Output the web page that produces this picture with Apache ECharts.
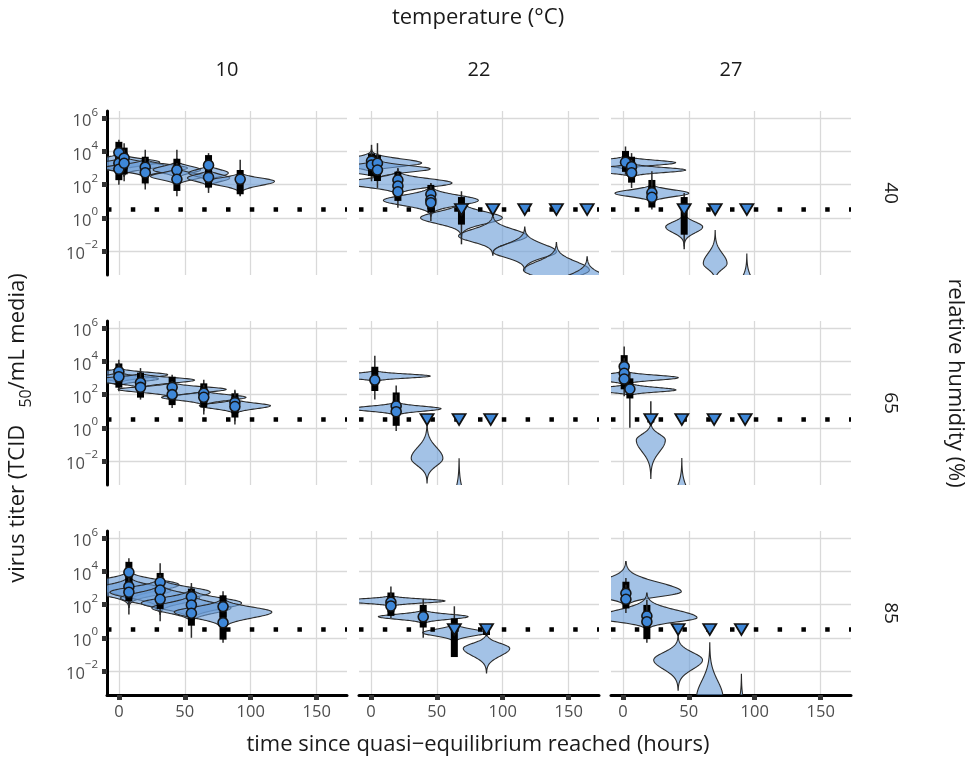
<!DOCTYPE html>
<html>
<head>
<meta charset="utf-8">
<script src="https://cdn.jsdelivr.net/npm/echarts@6/dist/echarts.min.js"></script>
<style>
  html, body { margin: 0; padding: 0; background: #fff; }
  #chart { width: 975px; height: 762px; }
</style>
</head>
<body>
<div id="chart"></div>
<script>
'use strict';

var temps = ['10', '22', '27'];
var humidities = ['40', '65', '85'];
var xTicks = [0, 50, 100, 150];
var yTicks = [-2, 0, 2, 4, 6];
var detectionLimit = 0.5;

// violins: [time (h), mode log10 titer, spread below, spread above, half width (h)]
// obs: [time (h), median, lo68, hi68, lo95, hi95]  (median null -> no circle)
// nd: times of samples below detection

var violins_10_40 = [
  [0, 3.35, 0.2, 0.2, 31], [4, 3.15, 0.2, 0.2, 30], [20, 3.0, 0.2, 0.2, 32],
  [44, 2.9, 0.2, 0.2, 18], [44, 2.5, 0.2, 0.2, 20], [68, 2.7, 0.2, 0.2, 15],
  [68, 2.4, 0.2, 0.2, 16], [92, 2.2, 0.25, 0.2, 26]
];
var obs_10_40 = [
  [0, 3.93, 3.5, 4.4, 3.0, 4.7], [0, 3.29, 2.85, 3.75, 2.3, 4.2], [0, 2.93, 2.45, 3.4, 2.0, 3.9],
  [4, 3.6, 3.1, 4.05, 2.7, 4.5], [4, 3.29, 2.8, 3.75, 2.2, 4.1],
  [20, 3.05, 2.6, 3.5, 2.0, 4.1], [20, 2.72, 2.25, 3.15, 1.7, 3.6],
  [44, 2.88, 2.45, 3.38, 1.9, 4.1], [44, 2.32, 1.8, 2.75, 1.3, 3.3],
  [68, 3.17, 2.7, 3.6, 2.3, 3.9], [68, 2.44, 2.0, 2.85, 1.5, 3.3],
  [92, 2.32, 1.6, 2.7, 1.3, 3.5]
];
var nd_10_40 = [];

var violins_22_40 = [
  [0.5, 3.3, 0.2, 0.25, 38], [5, 2.95, 0.2, 0.2, 40], [20.5, 2.1, 0.25, 0.25, 41],
  [45.5, 1.05, 0.3, 0.3, 36], [68.7, 0.0, 0.35, 0.35, 31], [92.5, -1.1, 0.35, 0.4, 26],
  [116.7, -2.05, 0.35, 0.45, 24], [140.7, -3.15, 0.4, 0.5, 25], [164, -4.0, 0.4, 0.5, 25]
];
var obs_22_40 = [
  [0.5, 3.42, 3.0, 3.7, 2.6, 4.4], [0.5, 3.18, 2.7, 3.6, 2.2, 4.1],
  [5, 3.29, 2.85, 3.6, 2.2, 4.5], [5, 2.88, 2.4, 3.3, 1.8, 3.9],
  [20.5, 2.28, 1.9, 2.6, 1.3, 3.0], [20.5, 1.92, 1.5, 2.3, 1.0, 2.7], [20.5, 1.57, 1.2, 1.95, 0.6, 2.4],
  [45.5, 1.42, 1.0, 1.8, 0.5, 2.1], [45.5, 1.07, 0.7, 1.45, 0.1, 1.9], [45.5, 0.91, 0.5, 1.3, -0.2, 1.7],
  [68.7, null, -0.23, 1.07, -1.6, 1.6]
];
var nd_22_40 = [68.7, 92.5, 116.7, 140.7, 164];

var violins_27_40 = [
  [2, 3.32, 0.15, 0.15, 38], [6.6, 2.88, 0.15, 0.15, 41], [22, 1.48, 0.2, 0.2, 28],
  [46.5, -0.55, 0.35, 0.3, 14], [70, -2.75, 0.35, 0.6, 9], [94, -4.5, 0.4, 0.7, 8]
];
var obs_27_40 = [
  [2, 3.35, 2.95, 3.85, 2.6, 4.3],
  [6.6, 3.08, 2.6, 3.5, 2.2, 3.9], [6.6, 2.72, 2.3, 3.1, 1.8, 3.5],
  [22, 1.51, 1.1, 2.1, 0.8, 2.8], [22, 1.24, 0.8, 1.7, 0.5, 2.3],
  [46.5, null, -0.84, 1.07, -1.9, 1.5]
];
var nd_27_40 = [46.5, 70, 94];

var violins_10_65 = [
  [0, 3.2, 0.18, 0.15, 37], [0, 2.95, 0.15, 0.15, 30], [16.4, 2.88, 0.18, 0.15, 41],
  [40.4, 2.32, 0.18, 0.15, 41], [64.4, 1.84, 0.18, 0.15, 32], [88, 1.33, 0.18, 0.15, 27]
];
var obs_10_65 = [
  [0, 3.38, 2.95, 3.7, 2.5, 4.1], [0, 3.08, 2.6, 3.45, 2.2, 3.9],
  [16.4, 2.72, 2.3, 3.15, 1.9, 3.6], [16.4, 2.44, 2.0, 2.85, 1.7, 3.3],
  [40.4, 2.44, 2.0, 2.9, 1.6, 3.2], [40.4, 2.0, 1.55, 2.4, 1.2, 2.8],
  [64.4, 2.08, 1.65, 2.5, 0.8, 2.9], [64.4, 1.84, 1.4, 2.25, 1.0, 2.6],
  [88, 1.52, 1.05, 1.9, 0.4, 2.3], [88, 1.28, 0.8, 1.7, 0.2, 2.2]
];
var nd_10_65 = [];

var violins_22_65 = [
  [3, 3.12, 0.12, 0.12, 42], [19.2, 1.15, 0.15, 0.15, 34],
  [42.6, -1.84, 0.45, 0.65, 12], [66.9, -5.5, 0.5, 1.1, 10]
];
var obs_22_65 = [
  [3, 2.88, 2.4, 3.5, 1.7, 4.35],
  [19.2, 1.31, 0.9, 1.95, 0.3, 2.55], [19.2, 0.97, 0.3, 1.4, -0.2, 2.0]
];
var nd_22_65 = [42.6, 66.9, 90.9];

var violins_27_65 = [
  [1, 3.02, 0.15, 0.15, 41], [5.3, 2.28, 0.12, 0.15, 35],
  [21.2, -0.74, 0.7, 0.35, 11], [44.7, -4.5, 0.5, 0.8, 7]
];
var obs_27_65 = [
  [1, 3.69, 3.3, 4.2, 2.9, 4.9], [1, 3.29, 2.9, 3.7, 2.4, 4.2], [1, 2.94, 2.5, 3.4, 1.9, 3.9],
  [5.3, 2.34, 1.95, 2.8, 0.0, 3.3],
  [21.2, null, 0.5, 0.5, 0.5, 1.6]
];
var nd_27_65 = [21.2, 44.7, 69.2, 92.7];

var violins_10_85 = [
  [7.6, 3.2, 0.35, 0.3, 38], [7.6, 2.85, 0.3, 0.3, 32], [31.3, 2.75, 0.35, 0.3, 38],
  [31.3, 2.4, 0.3, 0.3, 30], [55, 2.1, 0.35, 0.3, 38], [55, 1.8, 0.3, 0.3, 30],
  [79, 1.55, 0.35, 0.3, 37]
];
var obs_10_85 = [
  [7.6, 3.95, 3.5, 4.4, 2.8, 4.8], [7.6, 3.08, 2.6, 3.55, 1.4, 3.9], [7.6, 2.75, 2.4, 3.2, 1.8, 3.6],
  [31.3, 3.35, 2.95, 3.73, 2.4, 4.5], [31.3, 2.88, 2.45, 3.3, 1.9, 3.8], [31.3, 2.32, 1.92, 2.75, 1.0, 3.2],
  [55, 2.48, 2.05, 2.78, 1.5, 3.3], [55, 1.98, 1.55, 2.4, 1.0, 2.9], [55, 1.48, 0.91, 1.9, 0.0, 2.4],
  [79, 1.88, 1.4, 2.38, 0.8, 2.8], [79, 0.91, 0.07, 1.4, -0.3, 1.9]
];
var nd_10_85 = [];

var violins_22_85 = [
  [15.2, 2.22, 0.12, 0.12, 41], [39.7, 1.27, 0.15, 0.15, 34],
  [63.3, 0.31, 0.2, 0.2, 24], [87.7, -0.64, 0.45, 0.3, 17.6]
];
var obs_22_85 = [
  [15.2, 2.14, 1.75, 2.55, 1.4, 3.1], [15.2, 1.92, 1.5, 2.3, 1.2, 2.7],
  [39.7, 1.27, 0.8, 1.8, 0.0, 2.35],
  [63.3, null, -0.98, 0.99, -1.0, 1.9],
  [87.7, null, 0.35, 0.65, 0.5, 0.5]
];
var nd_22_85 = [63.3, 87.7];

var violins_27_85 = [
  [2.3, 2.78, 0.3, 0.55, 42], [18.2, 1.21, 0.25, 0.45, 38],
  [41.9, -1.34, 0.55, 0.45, 18.5], [65.9, -3.6, 0.4, 1.0, 10], [89.9, -5.5, 0.5, 1.0, 8]
];
var obs_27_85 = [
  [2.3, 2.68, 2.2, 3.2, 1.9, 3.6], [2.3, 2.32, 1.95, 2.8, 1.5, 3.2],
  [18.2, 1.31, 0.85, 1.8, 0.2, 2.3], [18.2, 0.97, 0.1, 1.4, -0.3, 2.0]
];
var nd_27_85 = [41.9, 65.9, 89.9];

// panels in row-major order (rows = humidity, columns = temperature)
var panels = [
  [violins_10_40, obs_10_40, nd_10_40], [violins_22_40, obs_22_40, nd_22_40], [violins_27_40, obs_27_40, nd_27_40],
  [violins_10_65, obs_10_65, nd_10_65], [violins_22_65, obs_22_65, nd_22_65], [violins_27_65, obs_27_65, nd_27_65],
  [violins_10_85, obs_10_85, nd_10_85], [violins_22_85, obs_22_85, nd_22_85], [violins_27_85, obs_27_85, nd_27_85]
];

var FONT = '"Open Sans", "Noto Sans", sans-serif';
var gridLeft = [107, 359, 611];
var gridTop = [111, 321, 531];
var xMin = -9, xMax = 173, yMin = -3.45, yMax = 6.44;

function renderViolin(params, api) {
  var t = api.value(0), m = api.value(1), sd = api.value(2), su = api.value(3), hw = api.value(4);
  var lo = m - 3.3 * sd, hi = m + 3.3 * su;
  var right = [], left = [];
  for (var i = 0; i <= 90; i++) {
    var y = lo + (hi - lo) * i / 90;
    var s = y < m ? sd : su;
    var w = hw * Math.exp(-0.5 * Math.pow((y - m) / s, 2));
    right.push(api.coord([t + w, y]));
    left.unshift(api.coord([t - w, y]));
  }
  return {
    type: 'polygon',
    shape: { points: right.concat(left) },
    style: { fill: 'rgba(106,156,214,0.62)', stroke: '#2b2b2b', lineWidth: 1.1 }
  };
}

function renderBars(params, api) {
  var t = api.value(0);
  var q1 = api.coord([t, api.value(1)]), q2 = api.coord([t, api.value(2)]);
  var p1 = api.coord([t, api.value(3)]), p2 = api.coord([t, api.value(4)]);
  return {
    type: 'group',
    children: [
      { type: 'line', shape: { x1: p1[0], y1: p1[1], x2: p2[0], y2: p2[1] },
        style: { stroke: '#2b2b2b', lineWidth: 1.5 } },
      { type: 'rect', shape: { x: q1[0] - 3.5, y: q2[1] - 3, width: 7, height: q1[1] - q2[1] + 6 },
        style: { fill: '#000' } }
    ]
  };
}

function supLabel(v) {
  var e = v < 0 ? '\u2212' + (-v) : String(v);
  return '{b|10}{s|' + e + '}';
}

var grids = [], xAxes = [], yAxes = [], series = [];

panels.forEach(function (p, k) {
  var row = Math.floor(k / 3), col = k % 3;
  grids.push({ left: gridLeft[col], top: gridTop[row], width: 240, height: 164, outerBoundsMode: 'none' });

  xAxes.push({
    gridIndex: k, type: 'value', min: xMin, max: xMax,
    axisLine: { show: row === 2, onZero: false, lineStyle: { color: '#000', width: 3 } },
    axisTick: { show: row === 2, length: 5, customValues: xTicks, lineStyle: { color: '#333', width: 5 } },
    axisLabel: { show: row === 2, customValues: xTicks, color: '#4d4d4d', fontSize: 16.5, margin: 9, fontFamily: FONT },
    splitLine: { show: true, lineStyle: { color: '#d9d9d9', width: 1.3 } }
  });

  yAxes.push({
    gridIndex: k, type: 'value', min: yMin, max: yMax,
    axisLine: { show: col === 0, onZero: false, lineStyle: { color: '#000', width: 3 } },
    axisTick: { show: col === 0, length: 5, customValues: yTicks, lineStyle: { color: '#333', width: 5 } },
    axisLabel: {
      show: col === 0, customValues: yTicks, margin: 9, formatter: supLabel,
      rich: {
        b: { fontSize: 16.5, color: '#4d4d4d', fontFamily: FONT, lineHeight: 24, verticalAlign: 'bottom' },
        s: { fontSize: 11.5, color: '#4d4d4d', fontFamily: FONT, lineHeight: 14, verticalAlign: 'top' }
      }
    },
    splitLine: { show: true, lineStyle: { color: '#d9d9d9', width: 1.3 } }
  });

  var obs = p[1];

  series.push({
    type: 'custom', xAxisIndex: k, yAxisIndex: k, clip: true, z: 2,
    renderItem: renderViolin, encode: { x: 0, y: 1 },
    data: p[0]
  });
  series.push({
    type: 'line', xAxisIndex: k, yAxisIndex: k, z: 3, silent: true,
    symbol: 'none', data: [[xMin, detectionLimit], [xMax, detectionLimit]],
    lineStyle: { color: '#000', width: 4.5, type: [4.5, 19.3] }
  });
  series.push({
    type: 'custom', xAxisIndex: k, yAxisIndex: k, clip: true, z: 4,
    renderItem: renderBars, encode: { x: 0, y: 1 },
    data: obs.map(function (o) { return [o[0], o[2], o[3], o[4], o[5]]; })
  });
  series.push({
    type: 'scatter', xAxisIndex: k, yAxisIndex: k, z: 5,
    symbol: 'circle', symbolSize: 10,
    itemStyle: { color: '#3e87d8', borderColor: '#151515', borderWidth: 1.6, opacity: 1 },
    data: obs.filter(function (o) { return o[1] !== null; }).map(function (o) { return [o[0], o[1]]; })
  });
  series.push({
    type: 'scatter', xAxisIndex: k, yAxisIndex: k, z: 6,
    symbol: 'path://M0,0 L10,0 L5,9 Z', symbolSize: [13, 11],
    itemStyle: { color: '#3e87d8', borderColor: '#111', borderWidth: 1.8, opacity: 1 },
    data: p[2].map(function (t) { return [t, detectionLimit]; })
  });
});

var titleStyle = { fill: '#1a1a1a', fontFamily: FONT, align: 'center', verticalAlign: 'middle' };
function txt(x, y, text, size, rot) {
  return {
    type: 'text', x: x, y: y, rotation: rot || 0,
    style: Object.assign({}, titleStyle, { text: text, fontSize: size })
  };
}

var graphics = [
  txt(478, 18, 'temperature (\u00b0C)', 22),
  txt(478, 745, 'time since quasi\u2212equilibrium reached (hours)', 22),
  txt(955, 383, 'relative humidity (%)', 22, -Math.PI / 2),
  {
    type: 'text', x: 18, y: 428, rotation: Math.PI / 2,
    style: {
      text: '{m|virus titer (TCID   }{u|50}{m|/mL media)}',
      align: 'center', verticalAlign: 'middle',
      rich: {
        m: { fontSize: 22, fill: '#1a1a1a', fontFamily: FONT, lineHeight: 32, verticalAlign: 'middle' },
        u: { fontSize: 16, fill: '#1a1a1a', fontFamily: FONT, lineHeight: 16, verticalAlign: 'bottom' }
      }
    }
  }
];
temps.forEach(function (t, c) { graphics.push(txt(gridLeft[c] + 120, 70, t, 20)); });
humidities.forEach(function (h, r) { graphics.push(txt(890, gridTop[r] + 82, h, 19, -Math.PI / 2)); });

var chart = echarts.init(document.getElementById('chart'), null, { renderer: 'canvas' });
chart.setOption({
  animation: false,
  backgroundColor: '#fff',
  grid: grids,
  xAxis: xAxes,
  yAxis: yAxes,
  series: series,
  graphic: graphics
});
</script>
</body>
</html>
